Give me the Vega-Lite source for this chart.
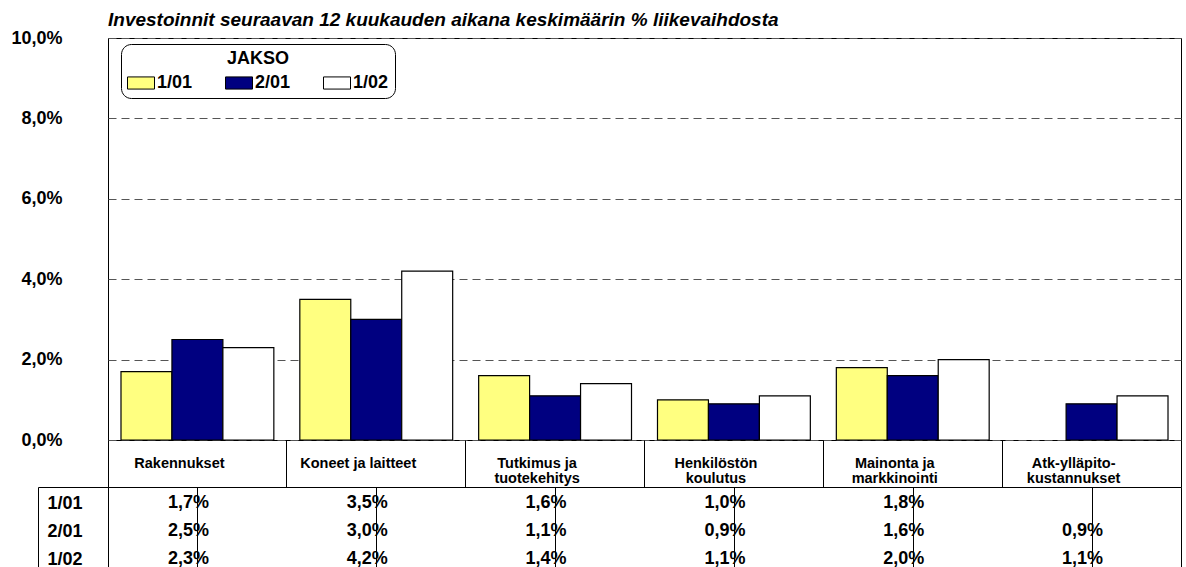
{
  "$schema": "https://vega.github.io/schema/vega-lite/v6.json",
  "background": "white",
  "padding": {"left": 10, "top": 10, "right": 2, "bottom": 0},
  "config": {
    "locale": {"number": {"decimal": ",", "thousands": " ", "grouping": [3], "currency": ["", " €"]}},
    "font": "Liberation Sans",
    "view": {"stroke": "black", "strokeWidth": 1}
  },
  "datasets": {
    "inv": [
      {"kohde": "Rakennukset", "jakso": "1/01", "osuus": 0.017},
      {"kohde": "Rakennukset", "jakso": "2/01", "osuus": 0.025},
      {"kohde": "Rakennukset", "jakso": "1/02", "osuus": 0.023},
      {"kohde": "Koneet ja laitteet", "jakso": "1/01", "osuus": 0.035},
      {"kohde": "Koneet ja laitteet", "jakso": "2/01", "osuus": 0.030},
      {"kohde": "Koneet ja laitteet", "jakso": "1/02", "osuus": 0.042},
      {"kohde": "Tutkimus ja tuotekehitys", "jakso": "1/01", "osuus": 0.016},
      {"kohde": "Tutkimus ja tuotekehitys", "jakso": "2/01", "osuus": 0.011},
      {"kohde": "Tutkimus ja tuotekehitys", "jakso": "1/02", "osuus": 0.014},
      {"kohde": "Henkilöstön koulutus", "jakso": "1/01", "osuus": 0.010},
      {"kohde": "Henkilöstön koulutus", "jakso": "2/01", "osuus": 0.009},
      {"kohde": "Henkilöstön koulutus", "jakso": "1/02", "osuus": 0.011},
      {"kohde": "Mainonta ja markkinointi", "jakso": "1/01", "osuus": 0.018},
      {"kohde": "Mainonta ja markkinointi", "jakso": "2/01", "osuus": 0.016},
      {"kohde": "Mainonta ja markkinointi", "jakso": "1/02", "osuus": 0.020},
      {"kohde": "Atk-ylläpito-kustannukset", "jakso": "2/01", "osuus": 0.009},
      {"kohde": "Atk-ylläpito-kustannukset", "jakso": "1/02", "osuus": 0.011}
    ]
  },
  "spacing": 47,
  "bounds": "flush",
  "vconcat": [
    {
      "width": 1073,
      "height": 402,
      "title": {
        "text": "Investoinnit seuraavan 12 kuukauden aikana keskimäärin % liikevaihdosta",
        "anchor": "start",
        "frame": "group",
        "fontSize": 19,
        "fontWeight": "bold",
        "fontStyle": "italic",
        "color": "black",
        "offset": -1
      },
      "data": {"name": "inv"},
      "mark": {"type": "bar", "stroke": "black", "strokeWidth": 1.2},
      "encoding": {
        "x": {
          "field": "kohde",
          "type": "nominal",
          "sort": ["Rakennukset", "Koneet ja laitteet", "Tutkimus ja tuotekehitys", "Henkilöstön koulutus", "Mainonta ja markkinointi", "Atk-ylläpito-kustannukset"],
          "scale": {
            "domain": ["Rakennukset", "Koneet ja laitteet", "Tutkimus ja tuotekehitys", "Henkilöstön koulutus", "Mainonta ja markkinointi", "Atk-ylläpito-kustannukset"],
            "paddingInner": 0,
            "paddingOuter": 0
          },
          "axis": {
            "title": null,
            "labelAngle": 0,
            "domain": false,
            "bandPosition": 1,
            "tickExtra": true,
            "tickSize": 47,
            "tickColor": "black",
            "tickWidth": 1,
            "labelPadding": -31,
            "labelOffset": -18,
            "labelFontSize": 14.5,
            "labelFontWeight": "bold",
            "labelColor": "black",
            "labelBaseline": "top",
            "labelLineHeight": 15,
            "labelLimit": 300,
            "labelExpr": "datum.label == 'Tutkimus ja tuotekehitys' ? ['Tutkimus ja', 'tuotekehitys'] : datum.label == 'Henkilöstön koulutus' ? ['Henkilöstön', 'koulutus'] : datum.label == 'Mainonta ja markkinointi' ? ['Mainonta ja', 'markkinointi'] : datum.label == 'Atk-ylläpito-kustannukset' ? ['Atk-ylläpito-', 'kustannukset'] : datum.label"
          }
        },
        "xOffset": {
          "field": "jakso",
          "type": "nominal",
          "scale": {"domain": ["1/01", "2/01", "1/02"], "paddingInner": 0, "paddingOuter": 0.255}
        },
        "y": {
          "field": "osuus",
          "type": "quantitative",
          "scale": {"domain": [0, 0.1], "nice": false},
          "axis": {
            "title": null,
            "format": ".1%",
            "values": [0, 0.02, 0.04, 0.06, 0.08, 0.1],
            "grid": true,
            "gridDash": [8, 5],
            "gridColor": "#555555",
            "gridWidth": 1,
            "ticks": false,
            "domain": false,
            "labelPadding": 46,
            "labelFontSize": 18,
            "labelFontWeight": "bold",
            "labelColor": "black"
          }
        },
        "color": {
          "field": "jakso",
          "type": "nominal",
          "scale": {"domain": ["1/01", "2/01", "1/02"], "range": ["#FFFF80", "#000080", "#FFFFFF"]},
          "legend": {
            "orient": "none",
            "legendX": 13,
            "legendY": 6,
            "direction": "horizontal",
            "columns": 3,
            "title": "JAKSO",
            "titleAnchor": "middle",
            "titleFontSize": 18,
            "titleFontWeight": "bold",
            "titleColor": "black",
            "titlePadding": 1,
            "labelFontSize": 18,
            "labelFontWeight": "bold",
            "labelColor": "black",
            "labelOffset": 2,
            "columnPadding": 30,
            "symbolType": "M-1,-0.45L1,-0.45L1,0.45L-1,0.45Z",
            "symbolSize": 729,
            "symbolStrokeColor": "black",
            "symbolStrokeWidth": 1,
            "symbolOpacity": 1,
            "strokeColor": "black",
            "cornerRadius": 10,
            "fillColor": "white",
            "padding": 6
          }
        }
      }
    },
    {
      "width": 1073,
      "height": 84,
      "data": {"name": "inv"},
      "mark": {"type": "text", "fontSize": 18, "fontWeight": "bold", "color": "black", "dx": -9, "dy": 2},
      "encoding": {
        "x": {
          "field": "kohde",
          "type": "nominal",
          "sort": ["Rakennukset", "Koneet ja laitteet", "Tutkimus ja tuotekehitys", "Henkilöstön koulutus", "Mainonta ja markkinointi", "Atk-ylläpito-kustannukset"],
          "scale": {
            "domain": ["Rakennukset", "Koneet ja laitteet", "Tutkimus ja tuotekehitys", "Henkilöstön koulutus", "Mainonta ja markkinointi", "Atk-ylläpito-kustannukset"],
            "paddingInner": 0,
            "paddingOuter": 0
          },
          "axis": {
            "title": null,
            "labels": false,
            "ticks": false,
            "domain": false,
            "grid": true,
            "bandPosition": 1,
            "tickExtra": true,
            "gridColor": "black",
            "gridWidth": 1
          }
        },
        "y": {
          "field": "jakso",
          "type": "nominal",
          "scale": {"domain": ["1/01", "2/01", "1/02"], "paddingInner": 0, "paddingOuter": 0},
          "axis": {
            "title": null,
            "offset": 70,
            "domain": true,
            "domainColor": "black",
            "domainWidth": 1,
            "ticks": true,
            "tickSize": -70,
            "tickOffset": -14,
            "tickColor": "black",
            "tickWidth": 1,
            "tickOpacity": {"condition": {"test": "datum.value === '1/01'", "value": 1}, "value": 0},
            "labelOffset": 16,
            "labelAlign": "left",
            "labelPadding": 61,
            "labelFontSize": 18,
            "labelFontWeight": "bold",
            "labelColor": "black"
          }
        },
        "text": {"field": "osuus", "type": "quantitative", "format": ".1%"}
      }
    }
  ]
}
